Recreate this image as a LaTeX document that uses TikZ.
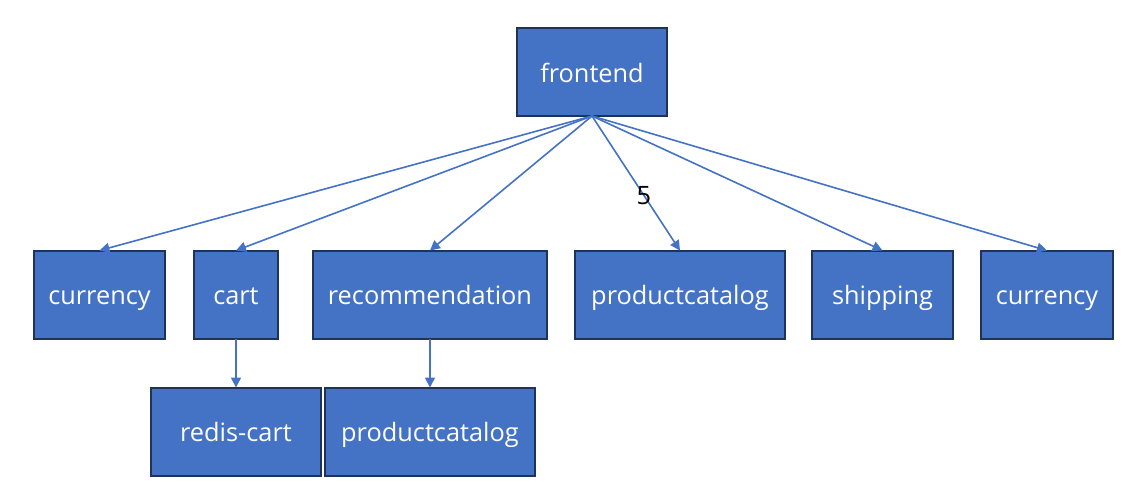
\documentclass[tikz,border=0pt]{standalone}
\usepackage{fontspec}
\setmainfont{Open Sans}
\usetikzlibrary{arrows.meta,positioning}
\definecolor{boxblue}{HTML}{4472C4}
\definecolor{boxedge}{HTML}{1F3356}

\begin{document}
\begin{tikzpicture}[
  box/.style={draw=boxedge, line width=1.5pt, fill=boxblue, text=white, font=\fontsize{19}{22}\selectfont, minimum height=66pt, inner sep=2pt, outer sep=0pt, text height=18pt, text depth=3pt},
  lbl/.style={font=\fontsize{19}{22}\selectfont},
  arrow/.style={-{Triangle[length=7.5pt,width=7.5pt]}, draw=boxblue, line width=1.2pt}
]
\useasboundingbox (0,0) rectangle (858pt,-375pt);
% 顶层
\node[box, minimum width=112.5pt] (frontend) at (444pt,-54pt) {frontend};
% 第二行
\node[box, minimum width=98.25pt] (cur1) at (74.6pt,-220.9pt) {currency};
\node[box, minimum width=63pt, right=21.75pt of cur1] (cart) {cart};
\node[box, minimum width=175.5pt, right=26.25pt of cart] (rec) {recommendation};
\node[box, minimum width=157.5pt, right=21pt of rec] (pc1) {productcatalog};
\node[box, minimum width=105.75pt, right=20.25pt of pc1] (ship) {shipping};
\node[box, minimum width=99pt, right=21pt of ship] (cur2) {currency};
% 第三行
\node[box, minimum width=127.5pt, below=36.75pt of cart] (redis) {redis-cart};
\node[box, minimum width=157.5pt, below=36.75pt of rec] (pc2) {productcatalog};
% 箭头
\draw[arrow] (frontend.south) -- (cur1.north);
\draw[arrow] (frontend.south) -- (cart.north);
\draw[arrow] (frontend.south) -- (rec.north);
\draw[arrow] (frontend.south) -- node[lbl, pos=0.59]{5} (pc1.north);
\draw[arrow] (frontend.south) -- (ship.north);
\draw[arrow] (frontend.south) -- (cur2.north);
\draw[arrow] (cart) -- (redis);
\draw[arrow] (rec) -- (pc2);
\end{tikzpicture}
\end{document}
